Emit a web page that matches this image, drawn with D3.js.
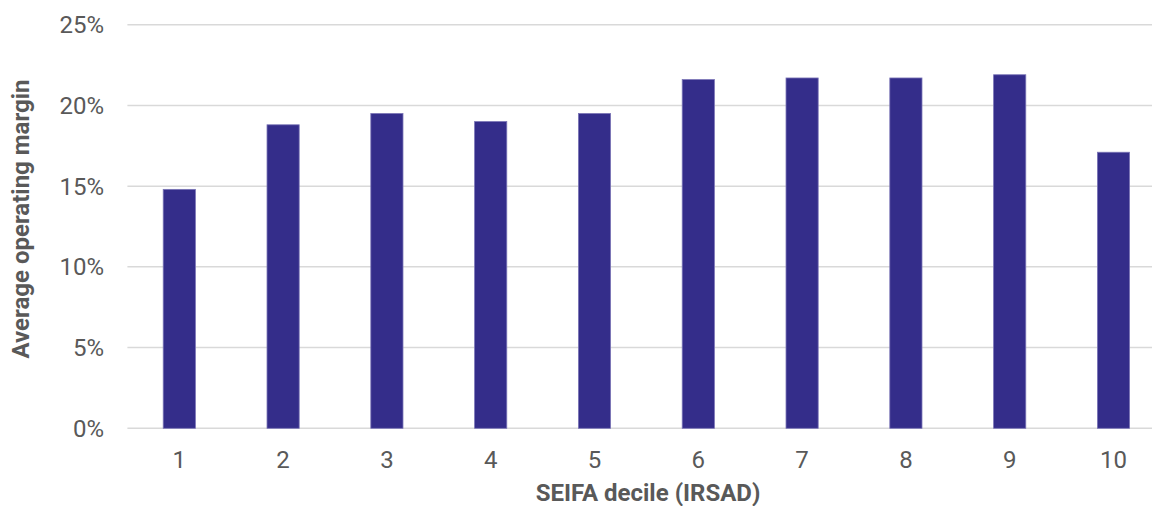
<!DOCTYPE html>
<html>
<head>
<meta charset="utf-8">
<script src="https://cdn.jsdelivr.net/npm/d3@7"></script>
<style>
  html, body { margin: 0; padding: 0; background: #fff; }
  svg { display: block; font-family: Roboto, "Noto Sans", sans-serif; }
</style>
</head>
<body>
<svg id="chart" width="1152" height="506"></svg>
<script>
const categories = ["1", "2", "3", "4", "5", "6", "7", "8", "9", "10"];
const values = [14.8, 18.8, 19.5, 19.0, 19.5, 21.6, 21.7, 21.7, 21.9, 17.1];
const yTicks = [0, 5, 10, 15, 20, 25];
const xTitle = "SEIFA decile (IRSAD)";
const yTitle = "Average operating margin";

(function () {
const svg = d3.select("#chart");
const pLeft = 127.4, pRight = 1165.4, pTop = 24.7, pBottom = 428.3;

const x = d3.scaleBand().domain(categories).range([pLeft, pRight]).paddingInner(0.69).paddingOuter(0.345);
const y = d3.scaleLinear().domain([0, 25]).range([pBottom, pTop]);

// gridlines
svg.append("g").selectAll("line").data(yTicks).join("line")
  .attr("x1", pLeft).attr("x2", 1152)
  .attr("y1", d => y(d)).attr("y2", d => y(d))
  .attr("stroke", "#d9d9d9").attr("stroke-width", 1.5);

// y axis labels
const yAxis = d3.axisLeft(y).tickValues(yTicks).tickFormat(d => d + "%").tickSize(0).tickPadding(0);
const ya = svg.append("g").attr("transform", `translate(104,0)`).call(yAxis);
ya.select(".domain").remove();
ya.selectAll("text").attr("font-size", 24).attr("fill", "#595959").attr("font-family", "Roboto").attr("dy", "0.33em");

// bars
svg.append("g").selectAll("rect").data(values).join("rect")
  .attr("x", (d, i) => x(categories[i]))
  .attr("width", x.bandwidth())
  .attr("y", d => y(d))
  .attr("height", d => y(0) - y(d))
  .attr("fill", "#342d8a")
  .attr("stroke", "#7a74b6").attr("stroke-width", 0.8);

// x axis labels
const xAxis = d3.axisBottom(x).tickSize(0).tickPadding(0);
const xa = svg.append("g").attr("transform", `translate(0,468)`).call(xAxis);
xa.select(".domain").remove();
xa.selectAll("text").attr("font-size", 24).attr("fill", "#595959").attr("font-family", "Roboto").attr("dy", "0").attr("y", 0);

// axis titles
svg.append("text").attr("x", 648).attr("y", 501)
  .attr("text-anchor", "middle").attr("font-size", 24).attr("font-weight", "bold")
  .attr("fill", "#595959").text(xTitle);

svg.append("text").attr("transform", "translate(29,219) rotate(-90)")
  .attr("text-anchor", "middle").attr("font-size", 24).attr("font-weight", "bold")
  .attr("fill", "#595959").text(yTitle);
})();
</script>
</body>
</html>
